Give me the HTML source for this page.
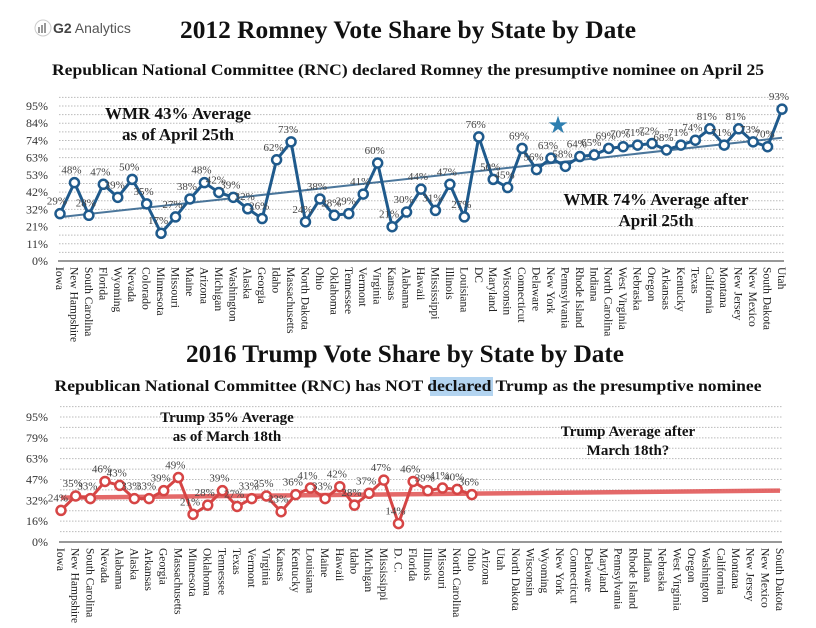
<!DOCTYPE html>
<html><head><meta charset="utf-8">
<style>
body{margin:0;background:#fff;width:816px;height:628px;overflow:hidden;font-family:"Liberation Serif",serif;}
svg{display:block}
</style></head>
<body>
<svg id="s" width="816" height="628" xmlns="http://www.w3.org/2000/svg" font-family="Liberation Serif, serif">
  <g>
    <circle cx="43" cy="28" r="8" fill="none" stroke="#ccc" stroke-width="1"/>
    <rect x="38" y="27" width="2" height="6" fill="#999"/><rect x="41" y="25" width="2" height="8" fill="#999"/><rect x="44" y="23" width="2" height="10" fill="#999"/>
    <text x="53" y="33" font-family="Liberation Sans, sans-serif" font-size="14" fill="#555"><tspan font-weight="bold" fill="#444">G2</tspan> Analytics</text>
  </g>
  <text x="408" y="38" text-anchor="middle" font-size="25" font-weight="bold" fill="#111" textLength="456" lengthAdjust="spacingAndGlyphs">2012 Romney Vote Share by State by Date</text>
  <text x="408" y="75" text-anchor="middle" font-size="16" font-weight="bold" fill="#111" textLength="712" lengthAdjust="spacingAndGlyphs">Republican National Committee (RNC) declared Romney the presumptive nominee on April 25</text>
  <text x="405" y="362" text-anchor="middle" font-size="25" font-weight="bold" fill="#111" textLength="438" lengthAdjust="spacingAndGlyphs">2016 Trump Vote Share by State by Date</text>
  <rect x="430" y="377" width="63" height="19" fill="#b3d4f0"/>
  <text x="408" y="391" text-anchor="middle" font-size="16" font-weight="bold" fill="#111" textLength="707" lengthAdjust="spacingAndGlyphs">Republican National Committee (RNC) has NOT declared Trump as the presumptive nominee</text>
  <g id="top"></g>
  <g id="bot"></g>
  <text x="558" y="133" text-anchor="middle" font-size="24" fill="#2e7fb0">★</text>
  <text font-size="17" font-weight="bold" fill="#111" text-anchor="middle"><tspan x="178" y="119">WMR 43% Average</tspan><tspan x="178" y="140">as of April 25th</tspan></text>
  <text font-size="17" font-weight="bold" fill="#111" text-anchor="middle"><tspan x="656" y="205">WMR 74% Average after</tspan><tspan x="656" y="226">April 25th</tspan></text>
  <text font-size="15" font-weight="bold" fill="#111" text-anchor="middle"><tspan x="227" y="422">Trump 35% Average</tspan><tspan x="227" y="441">as of March 18th</tspan></text>
  <text font-size="15" font-weight="bold" fill="#111" text-anchor="middle"><tspan x="628" y="436">Trump Average after</tspan><tspan x="628" y="455">March 18th?</tspan></text>
</svg>
<script>
const romneyStates=["Iowa","New Hampshire","South Carolina","Florida","Wyoming","Nevada","Colorado","Minnesota","Missouri","Maine","Arizona","Michigan","Washington","Alaska","Georgia","Idaho","Massachusetts","North Dakota","Ohio","Oklahoma","Tennessee","Vermont","Virginia","Kansas","Alabama","Hawaii","Mississippi","Illinois","Louisiana","DC","Maryland","Wisconsin","Connecticut","Delaware","New York","Pennsylvania","Rhode Island","Indiana","North Carolina","West Virginia","Nebraska","Oregon","Arkansas","Kentucky","Texas","California","Montana","New Jersey","New Mexico","South Dakota","Utah"];
const romneyValues=[29,48,28,47,39,50,35,17,27,38,48,42,39,32,26,62,73,24,38,28,29,41,60,21,30,44,31,47,27,76,50,45,69,56,63,58,64,65,69,70,71,72,68,71,74,81,71,81,73,70,93];
const romneyTicks=["0%","11%","21%","32%","42%","53%","63%","74%","84%","95%"];
const trumpStates=["Iowa","New Hampshire","South Carolina","Nevada","Alabama","Alaska","Arkansas","Georgia","Massachusetts","Minnesota","Oklahoma","Tennessee","Texas","Vermont","Virginia","Kansas","Kentucky","Louisiana","Maine","Hawaii","Idaho","Michigan","Mississippi","D. C.","Florida","Illinois","Missouri","North Carolina","Ohio","Arizona","Utah","North Dakota","Wisconsin","Wyoming","New York","Connecticut","Delaware","Maryland","Pennsylvania","Rhode Island","Indiana","Nebraska","West Virginia","Oregon","Washington","California","Montana","New Jersey","New Mexico","South Dakota"];
const trumpValues=[24,35,33,46,43,33,33,39,49,21,28,39,27,33,35,23,36,41,33,42,28,37,47,14,46,39,41,40,36];
const trumpTicks=["0%","16%","32%","47%","63%","79%","95%"];

const NS="http://www.w3.org/2000/svg";
function mk(parent,tag,attrs){const e=document.createElementNS(NS,tag);for(const k in attrs)e.setAttribute(k,attrs[k]);parent.appendChild(e);return e;}

function draw(g,cfg){
  const {states,values,ticks,tickStep,x0,x1,y0,yTop,color,trendColor,trendW,trendExtend,pfx}=cfg;
  const n=states.length, maxV=tickStep*(ticks.length-1);
  const xs=i=>x0+i*(x1-x0)/(n-1);
  const ys=v=>y0-v/maxV*(y0-yTop);
  for(let k=1;k<=(ticks.length-1)*2+1;k++){
    const y=y0-k*(y0-yTop)/((ticks.length-1)*2);
    const l=mk(g,'line',{x1:x0-1,x2:x1+2,y1:y,y2:y,stroke:'#bbb','stroke-width':1,'stroke-dasharray':'1.5 1.5'});
    
    
  }
  ticks.forEach((t,i)=>{
    const tx=mk(g,'text',{x:48,y:ys(i*tickStep)+4,'text-anchor':'end','font-size':12,fill:'#333'});
    tx.textContent=t;
    
    
  });
  const ax=mk(g,'line',{x1:x0-2,x2:x1+2,y1:y0,y2:y0,stroke:'#777','stroke-width':1.5});
  
  
  states.forEach((s,i)=>{
    const tx=mk(g,'text',{transform:`translate(${xs(i)-4},${y0+6}) rotate(90)`,'font-size':11.5,fill:'#222'});
    tx.textContent=s;
    
    
  });
  const m=values.length;let sx=0,sy=0,sxx=0,sxy=0;
  values.forEach((v,i)=>{sx+=i;sy+=v;sxx+=i*i;sxy+=i*v;});
  const b=(m*sxy-sx*sy)/(m*sxx-sx*sx), a=(sy-b*sx)/m;
  const endI=trendExtend?n-1:m-1;
  const tr=mk(g,'line',{x1:xs(0),y1:ys(a),x2:xs(endI),y2:ys(a+b*endI),stroke:trendColor,'stroke-width':trendW,opacity:0.85});
  
  
  const pts=values.map((v,i)=>xs(i)+','+ys(v)).join(' ');
  const pl=mk(g,'polyline',{points:pts,fill:'none',stroke:color,'stroke-width':3,'stroke-linejoin':'round'});
  
  
  values.forEach((v,i)=>{
    const c=mk(g,'circle',{cx:xs(i),cy:ys(v),r:4.5,fill:'#fff',stroke:color,'stroke-width':2.5});
    
    
    const t=mk(g,'text',{x:xs(i)-3,y:ys(v)-9,'text-anchor':'middle','font-size':11,fill:'#444'});
    t.textContent=v+'%';
    
    
  });
}
draw(document.getElementById('top'),{states:romneyStates,values:romneyValues,ticks:romneyTicks,tickStep:10.55,x0:60,x1:782,y0:261,yTop:106,color:'#1f5a8c',trendColor:'#2c5f8a',trendW:2,trendExtend:false,pfx:'romney'});
draw(document.getElementById('bot'),{states:trumpStates,values:trumpValues,ticks:trumpTicks,tickStep:15.83,x0:61,x1:780,y0:542,yTop:417,color:'#d64545',trendColor:'#e05050',trendW:4.5,trendExtend:true,pfx:'trump'});
</script>
</body></html>
